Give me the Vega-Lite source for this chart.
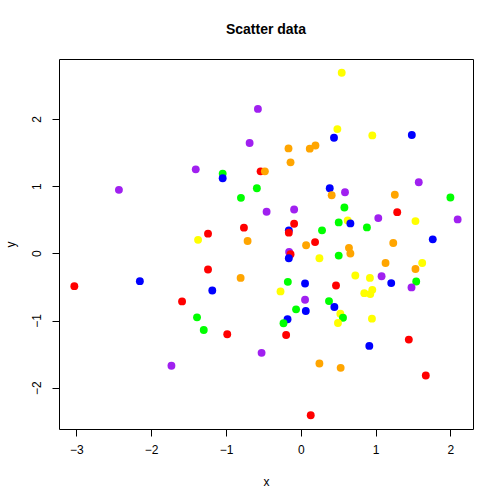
{
  "$schema": "https://vega.github.io/schema/vega-lite/v6.json",
  "width": 414,
  "height": 370,
  "autosize": {"type": "none"},
  "padding": {"left": 59, "top": 59, "right": 31, "bottom": 75},
  "background": "white",
  "title": {
    "text": "Scatter data",
    "font": "Liberation Sans",
    "fontSize": 14,
    "fontWeight": "bold",
    "color": "black",
    "anchor": "middle",
    "offset": 22
  },
  "config": {
    "view": {"stroke": "black", "strokeWidth": 1},
    "axis": {
      "grid": false,
      "domain": false,
      "tickColor": "black",
      "tickSize": 7,
      "labelFont": "Liberation Sans",
      "labelFontSize": 12,
      "labelColor": "black",
      "titleFont": "Liberation Sans",
      "titleFontSize": 12,
      "titleFontWeight": "normal",
      "titleColor": "black"
    }
  },
  "data": {
    "values": [
      {"x": -0.573, "y": 2.148, "col": "purple"},
      {"x": -0.684, "y": 1.640, "col": "purple"},
      {"x": -1.404, "y": 1.249, "col": "purple"},
      {"x": -1.044, "y": 1.185, "col": "green"},
      {"x": -1.044, "y": 1.116, "col": "blue"},
      {"x": -0.537, "y": 1.219, "col": "red"},
      {"x": -0.480, "y": 1.219, "col": "orange"},
      {"x": -2.431, "y": 0.944, "col": "purple"},
      {"x": -0.587, "y": 0.967, "col": "green"},
      {"x": -0.800, "y": 0.825, "col": "green"},
      {"x": -0.457, "y": 0.618, "col": "purple"},
      {"x": -0.760, "y": 0.381, "col": "red"},
      {"x": -1.240, "y": 0.292, "col": "red"},
      {"x": -1.373, "y": 0.200, "col": "yellow"},
      {"x": -0.711, "y": 0.182, "col": "orange"},
      {"x": 0.547, "y": 2.686, "col": "yellow"},
      {"x": 0.489, "y": 1.847, "col": "yellow"},
      {"x": 0.444, "y": 1.719, "col": "blue"},
      {"x": 0.956, "y": 1.753, "col": "yellow"},
      {"x": 1.484, "y": 1.759, "col": "blue"},
      {"x": -0.164, "y": 1.560, "col": "orange"},
      {"x": 0.120, "y": 1.556, "col": "orange"},
      {"x": 0.196, "y": 1.604, "col": "orange"},
      {"x": -0.137, "y": 1.353, "col": "orange"},
      {"x": 0.387, "y": 0.967, "col": "blue"},
      {"x": 0.413, "y": 0.864, "col": "orange"},
      {"x": 0.591, "y": 0.908, "col": "purple"},
      {"x": 1.257, "y": 0.870, "col": "orange"},
      {"x": 1.577, "y": 1.056, "col": "purple"},
      {"x": 2.000, "y": 0.830, "col": "green"},
      {"x": 0.583, "y": 0.681, "col": "green"},
      {"x": 1.289, "y": 0.612, "col": "red"},
      {"x": -0.089, "y": 0.652, "col": "purple"},
      {"x": -0.089, "y": 0.440, "col": "red"},
      {"x": -0.160, "y": 0.341, "col": "blue"},
      {"x": -0.160, "y": 0.307, "col": "red"},
      {"x": 0.284, "y": 0.341, "col": "green"},
      {"x": 0.507, "y": 0.459, "col": "green"},
      {"x": 0.627, "y": 0.489, "col": "yellow"},
      {"x": 0.663, "y": 0.444, "col": "blue"},
      {"x": 0.884, "y": 0.385, "col": "green"},
      {"x": 1.036, "y": 0.523, "col": "purple"},
      {"x": 1.533, "y": 0.479, "col": "yellow"},
      {"x": 2.097, "y": 0.504, "col": "purple"},
      {"x": 0.191, "y": 0.166, "col": "red"},
      {"x": 0.071, "y": 0.119, "col": "orange"},
      {"x": 0.644, "y": 0.081, "col": "orange"},
      {"x": 1.236, "y": 0.153, "col": "orange"},
      {"x": 1.764, "y": 0.207, "col": "blue"},
      {"x": -1.240, "y": -0.241, "col": "red"},
      {"x": -0.804, "y": -0.366, "col": "orange"},
      {"x": -3.027, "y": -0.489, "col": "red"},
      {"x": -2.151, "y": -0.415, "col": "blue"},
      {"x": -1.183, "y": -0.553, "col": "blue"},
      {"x": -1.587, "y": -0.716, "col": "red"},
      {"x": -1.387, "y": -0.953, "col": "green"},
      {"x": -1.297, "y": -1.141, "col": "green"},
      {"x": -0.983, "y": -1.204, "col": "red"},
      {"x": -0.524, "y": -1.481, "col": "purple"},
      {"x": -1.729, "y": -1.674, "col": "purple"},
      {"x": 0.663, "y": -0.004, "col": "orange"},
      {"x": -0.156, "y": 0.019, "col": "purple"},
      {"x": -0.137, "y": -0.015, "col": "red"},
      {"x": -0.160, "y": -0.074, "col": "blue"},
      {"x": 0.249, "y": -0.074, "col": "yellow"},
      {"x": 0.507, "y": -0.034, "col": "green"},
      {"x": 1.133, "y": -0.144, "col": "orange"},
      {"x": 1.533, "y": -0.233, "col": "orange"},
      {"x": 1.623, "y": -0.144, "col": "yellow"},
      {"x": 0.729, "y": -0.330, "col": "yellow"},
      {"x": 0.924, "y": -0.366, "col": "yellow"},
      {"x": 1.080, "y": -0.341, "col": "purple"},
      {"x": 1.209, "y": -0.444, "col": "blue"},
      {"x": 1.543, "y": -0.419, "col": "green"},
      {"x": 1.480, "y": -0.508, "col": "purple"},
      {"x": -0.173, "y": -0.425, "col": "green"},
      {"x": 0.057, "y": -0.449, "col": "blue"},
      {"x": 0.471, "y": -0.479, "col": "red"},
      {"x": -0.271, "y": -0.567, "col": "yellow"},
      {"x": 0.849, "y": -0.593, "col": "yellow"},
      {"x": 0.956, "y": -0.544, "col": "yellow"},
      {"x": 0.929, "y": -0.607, "col": "yellow"},
      {"x": 0.057, "y": -0.692, "col": "purple"},
      {"x": 0.377, "y": -0.711, "col": "green"},
      {"x": -0.063, "y": -0.834, "col": "green"},
      {"x": 0.067, "y": -0.859, "col": "blue"},
      {"x": 0.449, "y": -0.800, "col": "blue"},
      {"x": 0.529, "y": -0.899, "col": "yellow"},
      {"x": 0.564, "y": -0.959, "col": "green"},
      {"x": 0.497, "y": -1.037, "col": "yellow"},
      {"x": 0.951, "y": -0.973, "col": "yellow"},
      {"x": -0.177, "y": -0.982, "col": "blue"},
      {"x": -0.231, "y": -1.041, "col": "green"},
      {"x": -0.196, "y": -1.215, "col": "red"},
      {"x": 1.444, "y": -1.284, "col": "red"},
      {"x": 0.916, "y": -1.378, "col": "blue"},
      {"x": 0.249, "y": -1.640, "col": "orange"},
      {"x": 0.533, "y": -1.704, "col": "orange"},
      {"x": 1.671, "y": -1.818, "col": "red"},
      {"x": 0.133, "y": -2.410, "col": "red"}
    ]
  },
  "mark": {"type": "circle", "size": 62, "opacity": 1},
  "encoding": {
    "x": {
      "field": "x",
      "type": "quantitative",
      "scale": {"domain": [-3.232, 2.302], "nice": false, "zero": false},
      "axis": {
        "values": [-3, -2, -1, 0, 1, 2],
        "labelPadding": 8,
        "title": "x",
        "titleY": 52,
        "titleBaseline": "middle"
      }
    },
    "y": {
      "field": "y",
      "type": "quantitative",
      "scale": {"domain": [-2.614, 2.89], "nice": false, "zero": false},
      "axis": {
        "values": [-2, -1, 0, 1, 2],
        "labelAngle": -90,
        "labelAlign": "center",
        "labelBaseline": "bottom",
        "labelPadding": 9,
        "title": "y",
        "titleX": -49,
        "titleY": 185,
        "titleAngle": -90,
        "titleBaseline": "middle",
        "titleAlign": "center"
      }
    },
    "color": {
      "field": "col",
      "type": "nominal",
      "scale": {
        "domain": ["red", "orange", "yellow", "green", "blue", "purple"],
        "range": ["#FF0000", "#FFA500", "#FFFF00", "#00FF00", "#0000FF", "#A020F0"]
      },
      "legend": null
    }
  }
}
